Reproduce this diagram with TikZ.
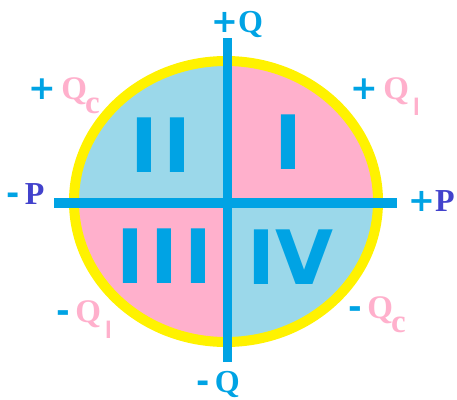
\documentclass[tikz,border=0pt]{standalone}
\usepackage{fontspec}
\usepackage{xcolor}
\setmainfont{Liberation Serif}
\newfontfamily\numfont{DejaVu Sans}
\newfontfamily\signfont{DejaVu Sans}
\newfontfamily\subfont{Liberation Sans}
\usetikzlibrary{positioning}
\definecolor{axisblue}{RGB}{0,163,228}
\definecolor{quadblue}{RGB}{155,216,234}
\definecolor{quadpink}{RGB}{255,176,204}
\definecolor{rimyellow}{RGB}{255,242,0}
\definecolor{qpink}{RGB}{255,176,204}
\definecolor{pblue}{RGB}{66,66,204}
\newcommand{\sgn}[1]{{\signfont\color{axisblue}#1}}
\newcommand{\subc}{\raisebox{-14pt}{c}}
\newcommand{\subl}{\raisebox{-16pt}{\subfont\fontsize{24}{24}\selectfont l}}

\begin{document}
\begin{tikzpicture}[x=1pt, y=-1pt,
    axis/.style={line width=9.5pt, axisblue},
    numlab/.style={font=\numfont\bfseries\fontsize{75}{75}\selectfont, text=axisblue, inner sep=0, anchor=base},
    qlab/.style={font=\bfseries\fontsize{33}{33}\selectfont, text=qpink, inner sep=0, anchor=base west},
    axlab/.style={font=\bfseries\fontsize{32}{32}\selectfont, inner sep=0, anchor=base west}]
    \useasboundingbox (0,0) rectangle (457,399);

    % Quadranten
    \coordinate (o) at (227.5,203);
    \begin{scope}
        \clip (226,201.5) ellipse [x radius=152, y radius=140.5];
        \fill[quadpink] (o) rectangle (400,40);
        \fill[quadblue] (o) rectangle (50,40);
        \fill[quadpink] (o) rectangle (50,370);
        \fill[quadblue] (o) rectangle (400,370);
    \end{scope}
    \draw[line width=10pt, rimyellow] (226,201.5) ellipse [x radius=152, y radius=140.5];

    % Achsen
    \coordinate (qtop) at (227.5,38);
    \coordinate (qbot) at (227.5,362);
    \coordinate (pleft) at (54,203);
    \coordinate (pright) at (397,203);
    \draw[axis] (qbot) -- (qtop);
    \draw[axis] (pleft) -- (pright);

    % Quadrantnummern
    \node[numlab] (q1) at (288.5,169) {I};
    \node[numlab] (q2) at (161,172) {I\hspace{6pt}I};
    \node[numlab] (q3) at (164.5,283) {I\hspace{6pt}I\hspace{6pt}I};
    \node[numlab] (q4) at (290.5,284) {IV};

    % Achsenbeschriftung
    \node[axlab, text=axisblue] (lqp) at (211,32) {\sgn{+}Q};
    \node[axlab, text=axisblue] (lqm) at (196,392) {\sgn{-}\,Q};
    \node[axlab, text=pblue] (lpm) at (6,204) {\sgn{-}\,P};
    \node[axlab, text=pblue] (lpp) at (408,211) {\sgn{+}P};

    \node[qlab] (lqc1) at (28,99) {\sgn{+}\,Q\kern-2pt\subc};
    \node[qlab] (lql1) at (350,99) {\sgn{+}\,Q\kern4pt\subl};
    \node[qlab] (lql2) at (56,322) {\sgn{-}\,Q\kern4pt\subl};
    \node[qlab] (lqc2) at (348,318) {\sgn{-}\,Q\kern-2pt\subc};
\end{tikzpicture}
\end{document}
